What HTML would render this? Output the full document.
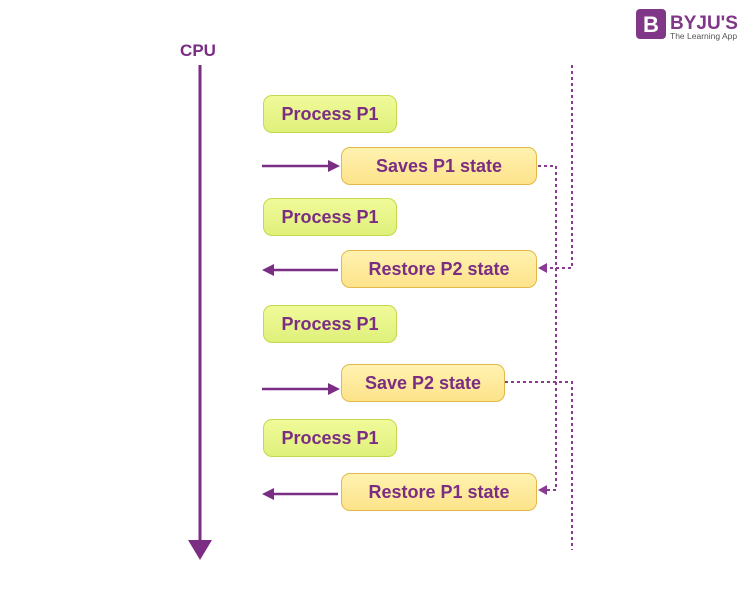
<!DOCTYPE html>
<html><head><style>
body{margin:0;width:750px;height:592px;background:#fff;position:relative;overflow:hidden;font-family:"Liberation Sans",sans-serif}
.b{position:absolute;box-sizing:border-box;border-radius:9px;font-weight:bold;font-size:18px;color:#7b2d83;text-align:center;line-height:36px;height:38px}
.g{background:linear-gradient(#f0fa9a,#dff07a);border:1px solid #c5d84a;left:263px;width:134px}
.y{background:linear-gradient(#fff2b0,#fde38a);border:1px solid #e2b84a;left:341px;width:196px}
</style></head><body>
<svg width="750" height="592" style="position:absolute;left:0;top:0">
<g stroke="#7b2d83" stroke-width="3" fill="#7b2d83">
<line x1="200" y1="65" x2="200" y2="542"/>
<polygon points="188,540 212,540 200,560" stroke="none"/>
<line x1="262" y1="166" x2="330" y2="166" stroke-width="2.5"/><polygon points="328,160 340,166 328,172" stroke="none"/>
<line x1="262" y1="389" x2="330" y2="389" stroke-width="2.5"/><polygon points="328,383 340,389 328,395" stroke="none"/>
<line x1="272" y1="270" x2="338" y2="270" stroke-width="2.5"/><polygon points="274,264 262,270 274,276" stroke="none"/>
<line x1="272" y1="494" x2="338" y2="494" stroke-width="2.5"/><polygon points="274,488 262,494 274,500" stroke="none"/>
</g>
<g stroke="#8b3a93" stroke-width="2" fill="none" stroke-dasharray="3,3">
<polyline points="572,65 572,268 546,268"/>
<polyline points="538,166 556,166 556,490 546,490"/>
<polyline points="505,382 572,382 572,550"/>
</g>
<g fill="#8b3a93"><polygon points="547,263 538,268 547,273"/><polygon points="547,485 538,490 547,495"/></g>
<text x="198" y="56" text-anchor="middle" font-family="Liberation Sans" font-weight="bold" font-size="17" fill="#7b2d83">CPU</text>
<rect x="636" y="9" width="30" height="30" rx="4" fill="#813788"/>
<text x="651" y="32" text-anchor="middle" font-family="Liberation Sans" font-weight="bold" font-size="22" fill="#fff">B</text>
<text x="670" y="29" font-family="Liberation Sans" font-weight="bold" font-size="19" fill="#813788">BYJU'S</text>
<text x="670" y="39" font-family="Liberation Sans" font-size="8.5" fill="#555">The Learning App</text>
</svg>
<div class="b g" style="top:95px">Process P1</div>
<div class="b y" style="top:147px">Saves P1 state</div>
<div class="b g" style="top:198px">Process P1</div>
<div class="b y" style="top:250px">Restore P2 state</div>
<div class="b g" style="top:305px">Process P1</div>
<div class="b y" style="top:364px;width:164px">Save P2 state</div>
<div class="b g" style="top:419px">Process P1</div>
<div class="b y" style="top:473px">Restore P1 state</div>
</body></html>
